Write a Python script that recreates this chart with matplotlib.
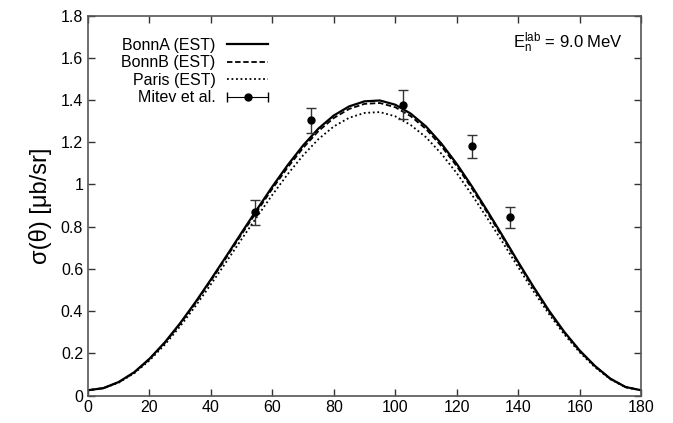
import numpy as np
import matplotlib
matplotlib.use('Agg')
import matplotlib.pyplot as plt
from matplotlib.lines import Line2D
from matplotlib.legend_handler import HandlerLine2D

plt.rcParams['font.family'] = ['Liberation Sans', 'DejaVu Sans']
plt.rcParams['mathtext.fontset'] = 'custom'
plt.rcParams['mathtext.rm'] = 'Liberation Sans'
plt.rcParams['mathtext.it'] = 'Liberation Sans'

# angles (deg) of the calculated curves
theta = [0, 5, 10, 15, 20, 25, 30, 35, 40, 45, 50, 55, 60, 65, 70, 75, 80, 85, 90,
         95, 100, 105, 110, 115, 120, 125, 130, 135, 140, 145, 150, 155, 160, 165, 170, 175, 180]

bonnA = [0.025, 0.035, 0.064, 0.110, 0.174, 0.252, 0.343, 0.443, 0.550, 0.660, 0.772, 0.882,
         0.990, 1.092, 1.185, 1.265, 1.327, 1.370, 1.394, 1.398, 1.378, 1.336, 1.275, 1.194,
         1.098, 0.990, 0.874, 0.755, 0.633, 0.515, 0.403, 0.302, 0.214, 0.140, 0.080, 0.040, 0.025]
bonnB = [0.025, 0.035, 0.063, 0.108, 0.172, 0.249, 0.339, 0.438, 0.544, 0.653, 0.764, 0.873,
         0.980, 1.081, 1.173, 1.253, 1.315, 1.358, 1.382, 1.386, 1.366, 1.324, 1.263, 1.182,
         1.087, 0.980, 0.865, 0.747, 0.626, 0.509, 0.398, 0.298, 0.211, 0.138, 0.079, 0.040, 0.025]
paris = [0.025, 0.034, 0.061, 0.105, 0.166, 0.241, 0.328, 0.424, 0.527, 0.633, 0.741, 0.847,
         0.951, 1.049, 1.138, 1.215, 1.275, 1.316, 1.339, 1.343, 1.323, 1.282, 1.224, 1.146,
         1.054, 0.950, 0.839, 0.725, 0.608, 0.494, 0.387, 0.290, 0.205, 0.134, 0.077, 0.039, 0.025]

# Mitev et al. data
exp_theta = [54.5, 72.5, 102.5, 125.0, 137.5]
exp_sigma = [0.868, 1.304, 1.378, 1.180, 0.845]
exp_err = [0.060, 0.060, 0.068, 0.056, 0.050]

fig = plt.figure(figsize=(6.73, 4.23), dpi=100)
ax = fig.add_subplot(111)
fig.subplots_adjust(left=0.1308, right=0.9525, bottom=0.065, top=0.963)

ax.plot(theta, bonnA, color='black', lw=1.6, ls='-')
ax.plot(theta, bonnB, color='black', lw=1.3, ls=(0, (3, 1.5)))
ax.plot(theta, paris, color='black', lw=1.3, ls=(0, (1, 1.5)))
ax.errorbar(exp_theta, exp_sigma, yerr=exp_err, fmt='o', color='black', ms=5,
            ecolor='#333333', elinewidth=1, capsize=3.5, capthick=1)

ax.set_xlim(0, 180)
ax.set_ylim(0, 1.8)
ax.set_xticks(np.arange(0, 181, 20))
ax.set_yticks(np.arange(0, 1.81, 0.2))
ax.set_yticklabels(['%g' % round(v, 1) for v in np.arange(0, 1.81, 0.2)])
ax.tick_params(direction='in', length=5, width=1, top=True, right=True, labelsize=11.5,
               color='#333333')
for sp in ax.spines.values():
    sp.set_color('#555555')
    sp.set_linewidth(1.2)

ax.set_ylabel(r'σ(θ) [μb/sr]', fontsize=17, labelpad=6)

ax.text(0.967, 0.928, r'E$_\mathrm{n}^\mathrm{lab}$ = 9.0 MeV', transform=ax.transAxes,
        ha='right', va='center', fontsize=12)

# legend, gnuplot style (text first)
hA = Line2D([], [], color='black', lw=1.6, ls='-')
hB = Line2D([], [], color='black', lw=1.3, ls=(0, (3, 1.5)))
hP = Line2D([], [], color='black', lw=1.3, ls=(0, (1, 1.5)))
h_dot = Line2D([], [], color='black', lw=0.8, marker='o', ms=5)
h_cap = Line2D([], [], color='black', lw=0, marker='|', ms=7)
ax.legend([hA, hB, hP, (h_dot, h_cap)],
          ['BonnA (EST)', 'BonnB (EST)', 'Paris (EST)', 'Mitev et al.'],
          handler_map={h_dot: HandlerLine2D(numpoints=1),
                       h_cap: HandlerLine2D(numpoints=2, marker_pad=0)},
          loc='upper right', bbox_to_anchor=(0.326, 0.941), frameon=False,
          markerfirst=False, fontsize=11.5, handlelength=2.6, handletextpad=0.7,
          labelspacing=0.15, borderpad=0, borderaxespad=0)

fig.savefig('out.png', dpi=100)
